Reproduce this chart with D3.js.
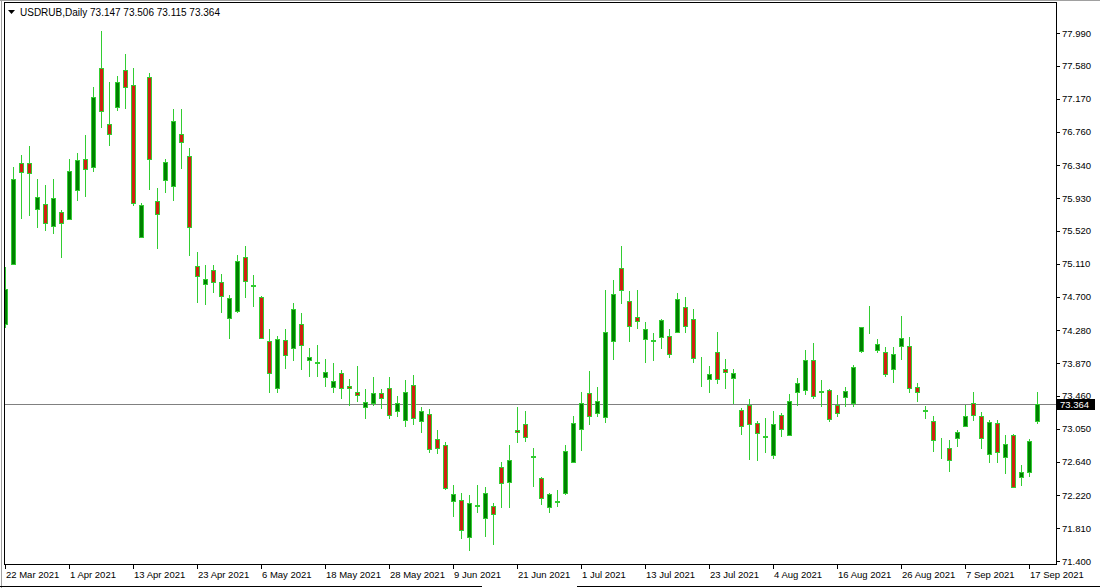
<!DOCTYPE html>
<html><head><meta charset="utf-8">
<script src="https://cdn.jsdelivr.net/npm/d3@7"></script>
<style>html,body{margin:0;padding:0;background:#fff;}svg{display:block;}</style>
</head><body>
<script>
// ---- data (USDRUB daily, bar 0 = 22 Mar 2021 ... bar 129 = 20 Sep 2021) ----
const opens = [74.358,75.107,76.364,76.364,75.790,75.852,75.575,75.752,75.672,76.027,
76.414,76.314,77.557,76.851,77.063,77.525,77.337,75.440,77.437,75.890,
76.152,76.077,76.726,76.451,75.078,74.854,75.032,74.879,74.429,74.524,
75.191,74.851,74.691,74.150,73.556,74.158,74.059,74.354,73.909,73.878,
73.693,73.568,73.750,73.584,73.513,73.319,73.368,73.493,73.556,73.272,
73.160,73.593,73.148,73.231,72.919,72.848,72.153,72.161,71.704,72.090,
71.933,72.087,72.570,72.390,73.035,73.106,72.711,72.432,72.070,72.137,
72.245,72.640,73.044,73.501,73.251,73.194,74.146,75.053,74.645,74.442,
74.167,74.152,74.192,74.212,74.255,74.567,74.417,73.830,73.668,74.012,
73.793,73.680,73.285,73.347,73.119,72.948,72.723,73.222,72.973,73.513,
73.534,73.909,73.522,73.534,73.347,73.443,73.368,74.025,74.308,74.034,
74.005,73.793,74.084,74.087,73.568,73.279,73.151,72.898,72.814,72.932,
73.085,73.376,73.214,72.736,73.119,72.695,72.973,72.452,72.507,73.147];
const highs = [75.070,76.318,76.467,76.584,76.168,76.093,76.168,75.787,76.418,76.489,
76.717,77.312,78.015,77.375,77.450,77.724,77.553,75.868,77.491,76.056,
76.414,77.042,77.042,76.559,75.253,75.095,75.095,74.982,74.720,75.216,
75.335,74.970,74.708,74.296,74.208,74.296,74.617,74.492,74.055,74.096,
73.918,73.867,73.784,73.668,73.834,73.543,73.700,73.543,73.693,73.460,
73.659,73.722,73.326,73.294,73.035,72.889,72.349,72.245,72.224,72.349,
72.320,72.120,72.640,72.848,73.326,73.276,72.807,72.445,72.253,72.286,
72.848,73.210,73.506,73.775,73.576,74.782,74.907,75.332,74.774,74.782,
74.387,74.250,74.417,74.292,74.749,74.699,74.541,73.943,73.834,74.262,
73.921,73.793,73.306,73.418,73.151,73.181,73.276,73.251,73.485,73.680,
74.034,74.125,73.659,73.547,73.472,73.568,73.847,74.325,74.583,74.167,
74.075,74.075,74.458,74.192,73.626,73.335,73.210,72.932,72.910,73.035,
73.347,73.506,73.264,73.160,73.160,72.973,72.985,72.598,72.919,73.506];
const lows = [74.308,75.095,75.665,75.710,75.556,75.519,75.481,75.186,75.656,75.897,
75.947,76.259,76.808,76.584,77.020,77.042,75.835,75.430,76.031,75.291,
75.993,75.893,76.293,75.211,74.617,74.595,74.741,74.499,74.167,74.496,
74.679,74.567,74.171,73.493,73.493,73.793,73.900,73.784,73.693,73.693,
73.568,73.501,73.418,73.335,73.388,73.169,73.335,73.294,73.169,73.201,
73.076,73.098,72.994,72.744,72.736,72.286,71.953,71.671,71.529,71.995,
71.704,71.600,72.058,72.058,72.869,72.889,72.320,72.099,72.003,72.070,
72.224,72.620,72.777,73.098,73.201,73.126,73.909,74.608,74.137,74.292,
73.867,73.900,74.042,73.930,74.250,74.242,73.867,73.568,73.493,73.609,
73.543,73.360,72.973,72.661,72.652,72.752,72.669,72.944,72.960,73.335,
73.472,73.418,73.319,73.139,73.201,73.326,73.319,73.993,74.233,73.993,
73.693,73.626,73.909,73.501,73.388,73.169,72.764,72.669,72.515,72.827,
73.069,73.151,72.794,72.627,72.627,72.486,72.308,72.336,72.445,73.115];
const closes = [74.795,76.168,76.249,76.243,75.939,75.615,75.927,75.615,76.264,76.401,
76.293,77.191,77.013,76.726,77.375,77.312,75.868,75.843,76.414,75.731,
76.376,76.888,76.626,75.565,74.951,74.916,74.879,74.711,74.679,75.148,
74.895,74.833,74.180,73.743,74.167,73.968,74.541,74.092,73.950,73.871,
73.763,73.650,73.556,73.565,73.472,73.388,73.493,73.431,73.222,73.376,
73.513,73.181,73.276,72.794,72.807,72.315,72.233,71.787,72.128,72.095,
72.253,71.987,72.370,72.661,73.006,72.944,72.695,72.183,72.236,72.153,
72.773,73.119,73.368,73.210,73.401,74.262,74.729,74.779,74.337,74.400,
74.300,74.156,74.408,73.984,74.666,74.337,73.930,73.834,73.730,73.668,
73.755,73.743,73.085,73.106,72.994,72.960,73.106,73.048,73.397,73.618,
73.909,73.460,73.505,73.169,73.251,73.522,73.818,74.317,74.312,74.105,
73.730,73.980,74.180,73.563,73.513,73.275,72.910,72.902,72.661,73.006,
73.214,73.222,72.932,73.139,72.757,72.860,72.320,72.515,72.902,73.364];

const dateTickLabels = ["22 Mar 2021","1 Apr 2021","13 Apr 2021","23 Apr 2021","6 May 2021","18 May 2021",
"28 May 2021","9 Jun 2021","21 Jun 2021","1 Jul 2021","13 Jul 2021","23 Jul 2021","4 Aug 2021",
"16 Aug 2021","26 Aug 2021","7 Sep 2021","17 Sep 2021"];
const dateTickBars = [0,8,16,24,32,40,48,56,64,72,80,88,96,104,112,120,128];
const priceTicks = [77.990,77.580,77.170,76.760,76.340,75.930,75.520,75.110,74.700,74.280,
73.870,73.460,73.050,72.640,72.220,71.810,71.400];
const symbol = "USDRUB,Daily";
const lastPrice = 73.364;

// ---- drawing ----
const W = 1100, H = 588;
const plotL = 4, plotR = 1056, plotT = 2, plotB = 564;
const svg = d3.select("body").append("svg").attr("width", W).attr("height", H)
  .style("font-family", "'Liberation Sans', Arial, sans-serif");
svg.append("rect").attr("width", W).attr("height", H).attr("fill", "#fff");

const x = d3.scaleLinear().domain([0, 129]).range([5, 1037]);
const y = d3.scaleLinear().domain([71.4, 77.99]).range([561, 33]);

svg.append("defs").append("clipPath").attr("id", "plot")
  .append("rect").attr("x", plotL + 1).attr("y", plotT + 1)
  .attr("width", plotR - plotL - 1).attr("height", plotB - plotT - 1);

// window edges
svg.append("line").attr("x1", 1.5).attr("x2", 1.5).attr("y1", 0).attr("y2", H)
  .attr("stroke", "#a0a0a0");
svg.append("line").attr("x1", 0).attr("x2", W).attr("y1", 0.5).attr("y2", 0.5)
  .attr("stroke", "#a0a0a0");
svg.append("line").attr("x1", 0).attr("x2", 482).attr("y1", 586.5).attr("y2", 586.5)
  .attr("stroke", "#000");
svg.append("line").attr("x1", 577).attr("x2", W).attr("y1", 586.5).attr("y2", 586.5)
  .attr("stroke", "#000");

// current price line
svg.append("line").attr("x1", plotL).attr("x2", plotR)
  .attr("y1", Math.round(y(lastPrice)) + 0.5).attr("y2", Math.round(y(lastPrice)) + 0.5)
  .attr("stroke", "#808080").attr("stroke-width", 1);

const idx = d3.range(opens.length);
const wickCol = "#32CD32";
const g = svg.append("g").attr("clip-path", "url(#plot)").attr("shape-rendering", "crispEdges");
g.selectAll("line.wick").data(idx).join("line").attr("class", "wick")
  .attr("x1", i => Math.round(x(i)) + 0.5).attr("x2", i => Math.round(x(i)) + 0.5)
  .attr("y1", i => y(highs[i])).attr("y2", i => y(lows[i]))
  .attr("stroke", wickCol).attr("stroke-width", 1);
g.selectAll("rect.body").data(idx).join("rect").attr("class", "body")
  .attr("x", i => Math.round(x(i)) - 1.5)
  .attr("width", 4)
  .attr("y", i => Math.round(y(Math.max(opens[i], closes[i]))) + 0.5)
  .attr("height", i => Math.max(0, Math.round(y(Math.min(opens[i], closes[i]))) - Math.round(y(Math.max(opens[i], closes[i])))))
  .attr("fill", i => closes[i] >= opens[i] ? "#008000" : "#d02010")
  .attr("stroke", wickCol).attr("stroke-width", 1);

// frame
svg.append("rect").attr("x", plotL + 0.5).attr("y", plotT + 0.5)
  .attr("width", plotR - plotL).attr("height", plotB - plotT)
  .attr("fill", "none").attr("stroke", "#000");

// price axis
const pa = svg.append("g");
pa.selectAll("line").data(priceTicks).join("line")
  .attr("x1", plotR).attr("x2", plotR + 4)
  .attr("y1", d => Math.round(y(d)) + 0.5).attr("y2", d => Math.round(y(d)) + 0.5)
  .attr("stroke", "#000");
pa.selectAll("text").data(priceTicks).join("text")
  .attr("x", plotR + 6).attr("y", d => y(d) + 3.5)
  .attr("font-size", "9.5px").attr("fill", "#000")
  .text(d => d.toFixed(3));

// last price tag
const ly = Math.round(y(lastPrice));
svg.append("rect").attr("x", plotR + 1).attr("y", ly - 5).attr("width", 38).attr("height", 11)
  .attr("fill", "#000");
svg.append("text").attr("x", plotR + 4).attr("y", ly + 4).attr("font-size", "9.5px")
  .attr("fill", "#fff").text(lastPrice.toFixed(3));

// date axis
const da = svg.append("g");
da.selectAll("line").data(dateTickBars).join("line")
  .attr("x1", d => Math.round(x(d)) + 0.5).attr("x2", d => Math.round(x(d)) + 0.5)
  .attr("y1", plotB).attr("y2", plotB + 5).attr("stroke", "#000");
da.selectAll("text").data(dateTickBars).join("text")
  .attr("x", d => Math.round(x(d)) + 1).attr("y", 578)
  .attr("font-size", "9.5px").attr("fill", "#000")
  .text((d, k) => dateTickLabels[k]);

// title
svg.append("path").attr("d", "M8,10 L15,10 L11.5,14 Z").attr("fill", "#000");
svg.append("text").attr("x", 20).attr("y", 15.5).attr("font-size", "10px").attr("fill", "#000")
  .text(symbol + " " + [opens[129], highs[129], lows[129], closes[129]].map(v => v.toFixed(3)).join(" "));
</script>
</body></html>
